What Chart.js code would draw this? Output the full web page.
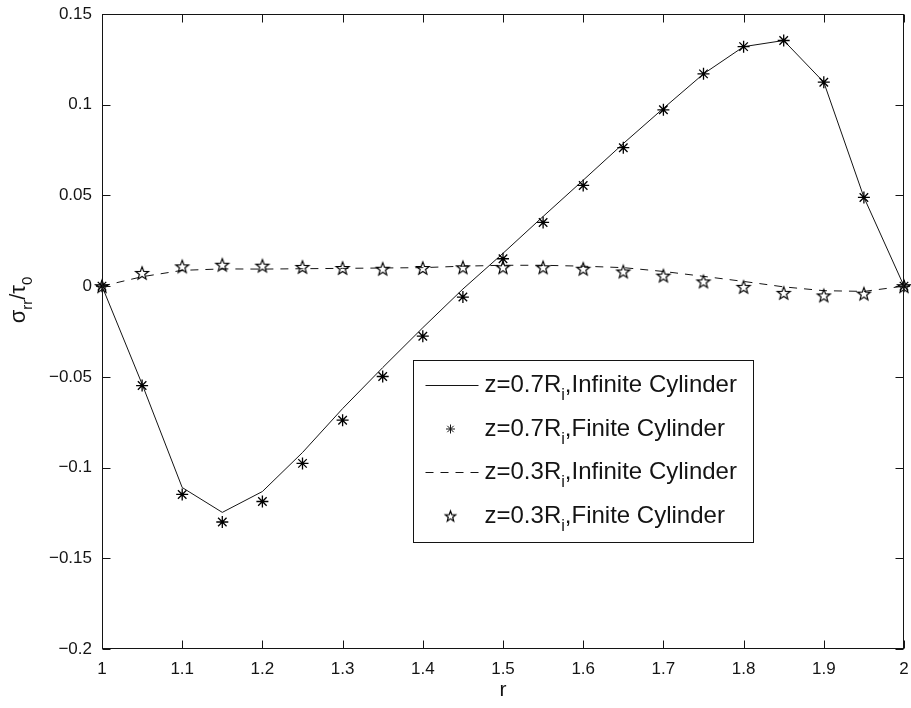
<!DOCTYPE html>
<html>
<head>
<meta charset="utf-8">
<script src="https://cdn.jsdelivr.net/npm/chart.js@4.4.1/dist/chart.umd.min.js"></script>
<style>
  html, body { margin: 0; padding: 0; background: #fff; }
  canvas { display: block; }
</style>
</head>
<body>
<canvas id="c" width="911" height="708"></canvas>
<script>
// Radial positions r (from inner radius 1 to outer radius 2)
const rValues = [1.00, 1.05, 1.10, 1.15, 1.20, 1.25, 1.30, 1.35, 1.40, 1.45, 1.50,
                 1.55, 1.60, 1.65, 1.70, 1.75, 1.80, 1.85, 1.90, 1.95, 2.00];

// sigma_rr / tau_0 at z = 0.7 R_i
const infinite07 = [0, -0.054, -0.111, -0.1247, -0.1132, -0.0917, -0.0675, -0.0449, -0.0229, -0.0016, 0.0181,
                    0.0384, 0.0584, 0.0786, 0.098, 0.117, 0.132, 0.1354, 0.1124, 0.049, 0];
const finite07   = [0, -0.0548, -0.1148, -0.130, -0.1187, -0.0977, -0.0739, -0.0498, -0.0276, -0.0060, 0.0151,
                    0.0351, 0.0555, 0.0763, 0.0972, 0.117, 0.132, 0.1354, 0.1124, 0.0489, 0];

// sigma_rr / tau_0 at z = 0.3 R_i
const infinite03 = [0, 0.0052, 0.0087, 0.0095, 0.0094, 0.0096, 0.0098, 0.0100, 0.0102, 0.0110, 0.0115,
                    0.0115, 0.0110, 0.0102, 0.0081, 0.0054, 0.0026, -0.0004, -0.0025, -0.0029, 0];
const finite03   = [0, 0.0073, 0.0109, 0.0118, 0.0113, 0.0106, 0.0100, 0.0096, 0.0100, 0.0104, 0.0104,
                    0.0104, 0.0096, 0.0081, 0.0058, 0.0026, -0.0004, -0.0037, -0.0051, -0.0041, 0];

const seriesLabels = [
  'z=0.7R_i,Infinite Cylinder',
  'z=0.7R_i,Finite Cylinder',
  'z=0.3R_i,Infinite Cylinder',
  'z=0.3R_i,Finite Cylinder'
];

const xTicks = [1, 1.1, 1.2, 1.3, 1.4, 1.5, 1.6, 1.7, 1.8, 1.9, 2];
const yTicks = [-0.2, -0.15, -0.1, -0.05, 0, 0.05, 0.1, 0.15];
const xTitle = 'r';
const yTitle = '\u03c3_{rr}/\u03c4_0';

const INK = '#141414';
const TEXT_FAMILY = 'Liberation Sans';
const TICK_FONT = { family: TEXT_FAMILY, size: 17 };

function pts(ys) { return rValues.map((r, i) => ({ x: r, y: ys[i] })); }

function fmtTick(v) {
  const s = String(Math.round(v * 100) / 100);
  return s.replace('-', '\u2212');
}

// Hollow five-pointed star used as a marker
function makePentagram(r) {
  const size = Math.ceil(2 * r + 4);
  const c = document.createElement('canvas');
  c.width = c.height = size;
  const g = c.getContext('2d');
  const cx = size / 2, cy = size / 2 + r * 0.1, ri = r * 0.42;
  g.beginPath();
  for (let i = 0; i < 10; i++) {
    const rad = i % 2 ? ri : r;
    const a = -Math.PI / 2 + i * Math.PI / 5;
    const px = cx + rad * Math.cos(a), py = cy + rad * Math.sin(a);
    if (i) g.lineTo(px, py); else g.moveTo(px, py);
  }
  g.closePath();
  g.strokeStyle = '#000';
  g.lineWidth = 1.2;
  g.stroke();
  return c;
}
const starMarker = makePentagram(6.8);
const starLegend = makePentagram(5.5);

// Text with simple subscripts: "_x" or "_{xy}"
function parseRich(s) {
  const out = []; let buf = ''; let i = 0;
  while (i < s.length) {
    if (s[i] === '_') {
      if (buf) { out.push({ t: buf, sub: false }); buf = ''; }
      let t;
      if (s[i + 1] === '{') { const j = s.indexOf('}', i); t = s.slice(i + 2, j); i = j + 1; }
      else { t = s[i + 1]; i += 2; }
      out.push({ t, sub: true });
    } else { buf += s[i]; i++; }
  }
  if (buf) out.push({ t: buf, sub: false });
  return out;
}
function drawRich(ctx, s, x, y, size, align) {
  const parts = parseRich(s);
  const subSize = size * 0.68;
  let w = 0;
  parts.forEach(p => {
    ctx.font = `${p.sub ? subSize : size}px "${TEXT_FAMILY}"`;
    p.w = ctx.measureText(p.t).width; w += p.w;
  });
  let cx = align === 'center' ? x - w / 2 : x;
  ctx.textAlign = 'left';
  ctx.textBaseline = 'middle';
  parts.forEach(p => {
    ctx.font = `${p.sub ? subSize : size}px "${TEXT_FAMILY}"`;
    ctx.fillText(p.t, cx, p.sub ? y + size * 0.42 : y);
    cx += p.w;
  });
}

function drawAsterisk(ctx, x, y, r) {
  ctx.beginPath();
  for (let k = 0; k < 4; k++) {
    const a = k * Math.PI / 4;
    ctx.moveTo(x - r * Math.cos(a), y - r * Math.sin(a));
    ctx.lineTo(x + r * Math.cos(a), y + r * Math.sin(a));
  }
  ctx.stroke();
}

// Box frame with inward ticks, axis titles and the legend
const framePlugin = {
  id: 'frame',
  afterDraw(chart) {
    const { ctx, chartArea: a, scales } = chart;
    const L = Math.round(a.left) + 0.5, R = Math.round(a.right) - 0.5;
    const T = Math.round(a.top) + 0.5, B = Math.round(a.bottom) - 0.5;
    ctx.save();
    ctx.strokeStyle = INK;
    ctx.lineWidth = 1;
    ctx.strokeRect(L, T, R - L, B - T);
    const tl = 8;
    ctx.beginPath();
    xTicks.forEach(v => {
      const px = Math.round(scales.x.getPixelForValue(v)) + 0.5;
      ctx.moveTo(px, B); ctx.lineTo(px, B - tl);
      ctx.moveTo(px, T); ctx.lineTo(px, T + tl);
    });
    yTicks.forEach(v => {
      const py = Math.round(scales.y.getPixelForValue(v)) + 0.5;
      ctx.moveTo(L, py); ctx.lineTo(L + tl, py);
      ctx.moveTo(R, py); ctx.lineTo(R - tl, py);
    });
    ctx.stroke();

    // axis titles
    ctx.fillStyle = INK;
    drawRich(ctx, xTitle, (a.left + a.right) / 2, 690, 21, 'center');
    ctx.save();
    ctx.translate(22, 300);
    ctx.rotate(-Math.PI / 2);
    drawRich(ctx, yTitle, 0, -3, 22, 'center');
    ctx.restore();

    // legend
    const bx = a.left + 311.5, by = a.top + 346.5, bw = 340, bh = 182;
    ctx.fillStyle = '#fff';
    ctx.fillRect(bx, by, bw, bh);
    ctx.strokeStyle = INK;
    ctx.strokeRect(bx, by, bw, bh);
    const rowY = k => by + 25 + k * 43.5;
    const sx0 = bx + 12, sx1 = bx + 65, sxm = bx + 37;
    ctx.lineWidth = 1;
    // solid sample
    ctx.beginPath(); ctx.moveTo(sx0, rowY(0)); ctx.lineTo(sx1, rowY(0)); ctx.stroke();
    // asterisk sample
    drawAsterisk(ctx, sxm, rowY(1), 4.5);
    // dashed sample
    ctx.setLineDash([8, 7]);
    ctx.beginPath(); ctx.moveTo(sx0, rowY(2)); ctx.lineTo(sx1, rowY(2)); ctx.stroke();
    ctx.setLineDash([]);
    // star sample
    ctx.drawImage(starLegend, sxm - starLegend.width / 2, rowY(3) - starLegend.height / 2);
    ctx.fillStyle = INK;
    seriesLabels.forEach((lab, k) => drawRich(ctx, lab, bx + 71, rowY(k), 24, 'left'));
    ctx.restore();
  }
};

const tickOpts = (extra) => Object.assign({
  font: TICK_FONT, color: INK, autoSkip: false, maxRotation: 0,
  callback: v => fmtTick(v)
}, extra);

new Chart(document.getElementById('c'), {
  type: 'line',
  data: {
    datasets: [
      { label: seriesLabels[0], data: pts(infinite07), borderColor: INK, borderWidth: 1,
        pointRadius: 0, tension: 0, fill: false, clip: false, order: 3 },
      { label: seriesLabels[1], data: pts(finite07), showLine: false, pointStyle: 'star',
        pointRadius: 6, borderColor: '#000', backgroundColor: '#000', pointBorderWidth: 1.3, clip: false, order: 1 },
      { label: seriesLabels[2], data: pts(infinite03), borderColor: INK, borderWidth: 1, borderDash: [8, 7],
        pointRadius: 0, tension: 0, fill: false, clip: false, order: 4 },
      { label: seriesLabels[3], data: pts(finite03), showLine: false, pointStyle: starMarker,
        pointRadius: 7, borderColor: INK, clip: false, order: 2 }
    ]
  },
  options: {
    responsive: false,
    animation: false,
    devicePixelRatio: 1,
    layout: { autoPadding: false, padding: { top: 14, right: 7, left: 0, bottom: 0 } },
    plugins: { legend: { display: false }, tooltip: { enabled: false } },
    scales: {
      x: {
        type: 'linear', min: 1, max: 2,
        afterBuildTicks: s => { s.ticks = xTicks.map(v => ({ value: v })); },
        afterFit: s => { s.height = 59; s.paddingLeft = 0; s.paddingRight = 0; },
        grid: { display: false, drawTicks: false }, border: { display: false },
        ticks: tickOpts({ padding: 10 })
      },
      y: {
        type: 'linear', min: -0.2, max: 0.15,
        afterBuildTicks: s => { s.ticks = yTicks.map(v => ({ value: v })); },
        afterFit: s => { s.width = 102; s.paddingTop = 0; s.paddingBottom = 0; },
        grid: { display: false, drawTicks: false }, border: { display: false },
        ticks: tickOpts({ padding: 10 })
      }
    }
  },
  plugins: [framePlugin]
});
</script>
</body>
</html>
